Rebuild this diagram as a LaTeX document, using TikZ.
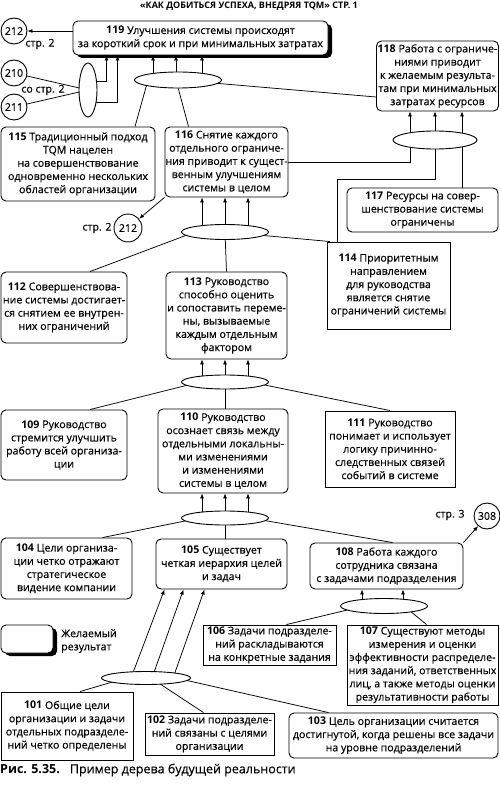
\documentclass[tikz,border=0pt]{standalone}
\usepackage{fontspec}
\setmainfont{Open Sans}[UprightFeatures={FakeBold=0.35}]
\usetikzlibrary{arrows.meta,shapes.geometric,shadows,backgrounds}

\begin{document}
\begin{tikzpicture}[x=1pt, y=-1pt,
    every node/.style={font=\fontsize{10.6}{13.2}\selectfont},
    rbox/.style={draw, line width=0.9pt, rounded corners=5pt, fill=white, align=center, inner sep=0.5pt},
    sbox/.style={draw, line width=0.9pt, fill=white, align=center, inner sep=0.5pt},
    goal/.style={rbox, drop shadow={fill=black, opacity=1, shadow xshift=4pt, shadow yshift=-3pt}},
    ell/.style={ellipse, draw, line width=0.9pt, fill=white, inner sep=0pt},
    ref/.style={circle, draw, line width=0.9pt, minimum size=26pt, inner sep=0pt},
    lbl/.style={inner sep=0pt},
    arr/.style={-{Latex[length=5pt,width=4pt]}, line width=0.75pt},
    lnk/.style={line width=0.75pt}]
    \useasboundingbox (0,0) rectangle (500,789);

    % title and caption
    \node[lbl, font=\bfseries\fontsize{9}{11}\selectfont] (title) at (249,6) {«КАК ДОБИТЬСЯ УСПЕХА, ВНЕДРЯЯ TQM» СТР. 1};
    \node[lbl, anchor=west, font=\fontsize{12.5}{14}\selectfont] (caption) at (0,770) {\textbf{Рис. 5.35.}\hspace{0.8em}Пример дерева будущей реальности};

    % statements
    \node[goal, minimum width=255, minimum height=34] (n119) at (200.5,38) {\textbf{119} Улучшения системы происходят\\за короткий срок и при минимальных затратах};
    \node[rbox, minimum width=122, minimum height=70] (n118) at (437.5,76) {\textbf{118} Работа с ограниче-\\ниями приводит\\к желаемым результа-\\там при минимальных\\затратах ресурсов};
    \node[rbox, minimum width=154, minimum height=74] (n115) at (78,164) {\textbf{115} Традиционный подход\\TQM нацелен\\на совершенствование\\одновременно нескольких\\областей организации};
    \node[rbox, minimum width=121, minimum height=70] (n116) at (226.5,162) {\textbf{116} Снятие каждого\\отдельного ограниче-\\ния приводит к сущест-\\венным улучшениям\\системы в целом};
    \node[rbox, minimum width=151, minimum height=44] (n117) at (422.5,210) {\textbf{117} Ресурсы на совер-\\шенствование системы\\ограничены};
    \node[sbox, minimum width=123, minimum height=87] (n114) at (388.5,285.5) {\textbf{114} Приоритетным\\направлением\\для руководства\\является снятие\\ограничений системы};
    \node[rbox, minimum width=126, minimum height=71] (n112) at (64,307.5) {\textbf{112} Совершенствова-\\ние системы достигает-\\ся снятием ее внутрен-\\них ограничений};
    \node[rbox, minimum width=121, minimum height=87] (n113) at (226.5,315.5) {\textbf{113} Руководство\\способно оценить\\и сопоставить переме-\\ны, вызываемые\\каждым отдельным\\фактором};
    \node[rbox, minimum width=126, minimum height=70] (n109) at (64,445) {\textbf{109} Руководство\\стремится улучшить\\работу всей организа-\\ции};
    \node[rbox, minimum width=130, minimum height=84] (n110) at (223,451) {\textbf{110} Руководство\\осознает связь между\\отдельными локальны-\\ми изменениями\\и изменениями\\системы в целом};
    \node[sbox, minimum width=130, minimum height=76] (n111) at (390,449) {\textbf{111} Руководство\\понимает и использует\\логику причинно-\\следственных связей\\событий в системе};
    \node[rbox, minimum width=131, minimum height=61] (n104) at (66.5,568.5) {\textbf{104} Цели организа-\\ции четко отражают\\стратегическое\\видение компании};
    \node[rbox, minimum width=131, minimum height=50] (n105) at (221.5,564) {\textbf{105} Существует\\четкая иерархия целей\\и задач};
    \node[rbox, minimum width=153, minimum height=46] (n108) at (386.5,566) {\textbf{108} Работа каждого\\сотрудника связана\\с задачами подразделения};
    \node[sbox, minimum width=133, minimum height=40] (n106) at (269.5,645) {\textbf{106} Задачи подразделе-\\ний раскладываются\\на конкретные задания};
    \node[sbox, minimum width=151, minimum height=80] (n107) at (422.5,665) {\textbf{107} Существуют методы\\измерения и оценки\\эффективности распределе-\\ния заданий, ответственных\\лиц, а также методы оценки\\результативности работы};
    \node[sbox, minimum width=132, minimum height=68] (n101) at (67,726) {\textbf{101} Общие цели\\организации и задачи\\отдельных подразделе-\\ний четко определены};
    \node[sbox, minimum width=129, minimum height=42] (n102) at (209.5,734) {\textbf{102} Задачи подразделе-\\ний связаны с целями\\организации};
    \node[rbox, minimum width=209, minimum height=45] (n103) at (393.5,735.5) {\textbf{103} Цель организации считается\\достигнутой, когда решены все задачи\\на уровне подразделений};

    % legend
    \node[goal, minimum width=52, minimum height=28] (legend) at (27,639) {};
    \node[lbl, anchor=west, align=left] (legendtext) at (61,641) {Желаемый\\результат};

    % "and" ellipses
    \node[ell, minimum width=87, minimum height=16] (eTop) at (178,80) {};
    \node[ell, minimum width=18, minimum height=54] (eLeft) at (88,90) {};
    \node[ell, minimum width=84, minimum height=18] (eR) at (435,140) {};
    \node[ell, minimum width=87, minimum height=15] (e116) at (225,232) {};
    \node[ell, minimum width=87, minimum height=14] (e113) at (225,382) {};
    \node[ell, minimum width=87, minimum height=14] (e110) at (225,518) {};
    \node[ell, minimum width=87, minimum height=15] (e108) at (384,606) {};
    \node[ell, minimum width=89, minimum height=13] (eBot) at (146,678) {};

    % page references
    \node[ref] (c212a) at (14,31) {212};
    \node[ref] (c210) at (14,73) {210};
    \node[ref] (c211) at (14,107) {211};
    \node[ref, minimum size=28pt] (c212b) at (128,228) {212};
    \node[ref] (c308) at (487,516) {308};
    \node[lbl] (p212a) at (40,44) {стр. 2};
    \node[lbl] (p210) at (43,90) {со стр. 2};
    \node[lbl] (p212b) at (97,228) {стр. 2};
    \node[lbl] (p308) at (450,515) {стр. 3};

    \begin{pgfonlayer}{background}
        % to 119
        \draw[arr] (n119.west |- c212a) -- (c212a);
        \draw[lnk] (c210) -- (eLeft.center);
        \draw[lnk] (c211) -- (eLeft.center);
        \draw[arr] ([yshift=9]eLeft.center) -| ([xshift=34]n119.south west);
        \draw[arr] ([yshift=-12]eLeft.center) -| ([xshift=45]n119.south west);
        \foreach \dx in {-25,-2,24}
            \draw[arr] ([xshift=\dx]eTop.center) -- ([xshift=\dx]eTop.center |- n119.south);
        \draw[lnk] ([xshift=-30]eTop.center) -- ([xshift=57]n115.north);
        \draw[lnk] ([xshift=-2]eTop.center) -- ([xshift=-38]n116.north);
        \draw[lnk] (eTop.center) -- ([yshift=-21]n118.west);

        % to 118
        \foreach \dx in {-25,0,27}
            \draw[arr] ([xshift=\dx]eR.center) -- ([xshift=\dx]eR.center |- n118.south);
        \draw[lnk] (n116.east) -| ([xshift=-25]eR.center);
        \draw[lnk] (eR.center) -- ++(0,39) -| ([xshift=-51.5]n114.north);
        \draw[lnk] ([xshift=27]eR.center) -- ([xshift=27]eR.center |- n117.north);

        % to 116
        \draw[arr] (n116.south west) -- (c212b);
        \foreach \dx in {-23,0,23}
            \draw[arr] ([xshift=\dx]e116.center) -- ([xshift=\dx]e116.center |- n116.south);
        \draw[lnk] ([xshift=-30]e116.center) -- ([xshift=26]n112.north);
        \draw[lnk] (e116.center) -- (n113.north);
        \draw[lnk] (e116.center) -- ([xshift=-58.5]n114.north);

        % to 113
        \foreach \dx in {-23,0,23}
            \draw[arr] ([xshift=\dx]e113.center) -- ([xshift=\dx]e113.center |- n113.south);
        \draw[lnk] ([xshift=-25]e113.center) -- ([xshift=26]n109.north);
        \draw[lnk] (e113.center) -- (e113.center |- n110.north);
        \draw[lnk] ([xshift=25]e113.center) -- (n111.north);

        % to 110
        \foreach \dx in {-23,0,23}
            \draw[arr] ([xshift=\dx]e110.center) -- ([xshift=\dx]e110.center |- n110.south);
        \draw[lnk] ([xshift=-25]e110.center) -- ([xshift=36]n104.north);
        \draw[lnk] (e110.center) -- (e110.center |- n105.north);
        \draw[lnk] ([xshift=25]e110.center) -- ([xshift=6]n108.north);

        % to 108
        \draw[arr] (n108.north east) -- (c308);
        \draw[arr] ([xshift=-22]e108.center) -- ([xshift=-22]e108.center |- n108.south);
        \draw[arr] ([xshift=19]e108.center) -- ([xshift=19]e108.center |- n108.south);
        \draw[lnk] ([xshift=-20]e108.center) -- ([xshift=17]n106.north);
        \draw[lnk] ([xshift=20]e108.center) -- ([xshift=4]n107.north);

        % to 105
        \draw[arr] ([xshift=-15]eBot.center) -- ([xshift=-57]n105.south);
        \draw[arr] ([xshift=6]eBot.center) -- ([xshift=-38]n105.south);
        \draw[arr] ([xshift=27]eBot.center) -- ([xshift=-17]n105.south);
        \draw[lnk] ([xshift=-20]eBot.center) -- ([xshift=13]n101.north);
        \draw[lnk] ([xshift=5]eBot.center) -- ([xshift=-6]n102.north);
        \draw[lnk] ([xshift=30]eBot.center) -- ([xshift=-65]n103.north);
    \end{pgfonlayer}
\end{tikzpicture}
\end{document}
